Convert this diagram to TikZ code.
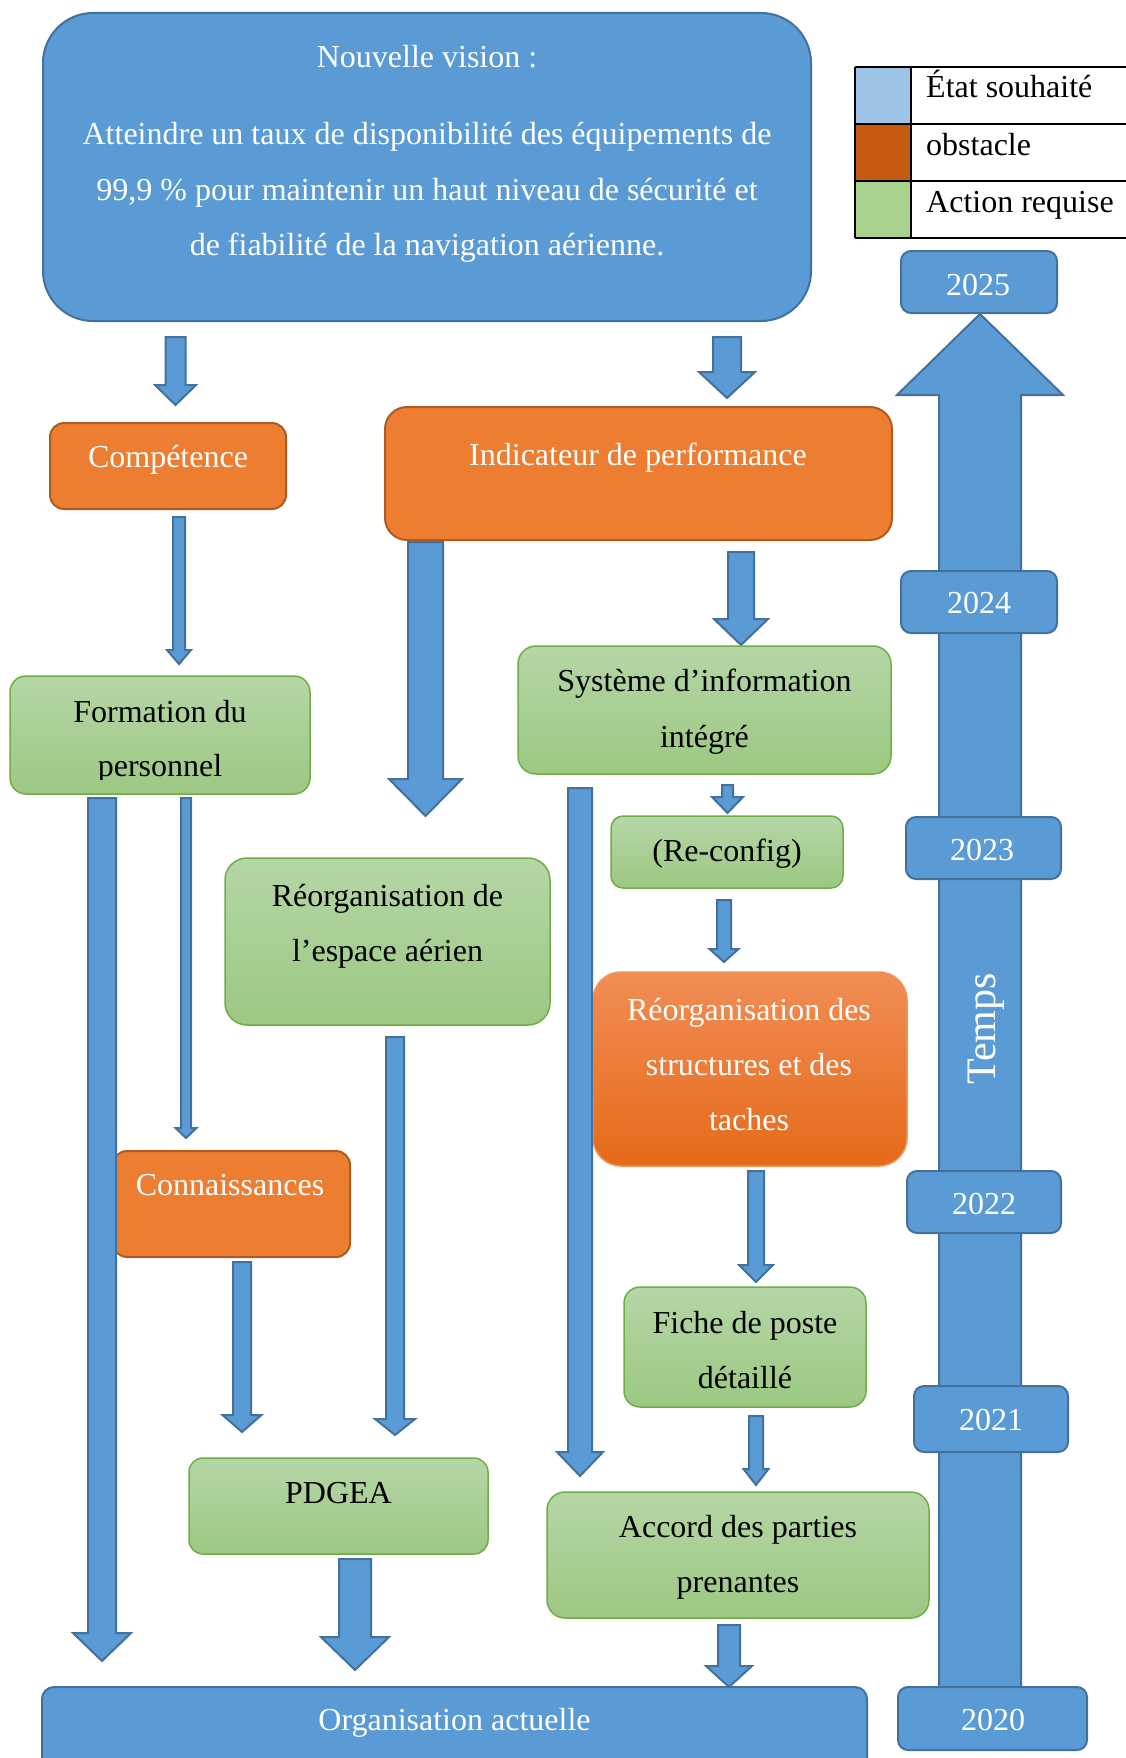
\documentclass[tikz,border=0pt]{standalone}
\usepackage{fontspec}
\setmainfont{Liberation Serif}
\usetikzlibrary{fit}
\definecolor{bfill}{HTML}{5B9BD5}
\definecolor{bline}{HTML}{41719C}
\definecolor{ofill}{HTML}{ED7D31}
\definecolor{oline}{HTML}{AE5A21}
\definecolor{gtop}{HTML}{B5D6A6}
\definecolor{gbot}{HTML}{9CC882}
\definecolor{gline}{HTML}{71AD47}
\definecolor{otop}{HTML}{F18D55}
\definecolor{obot}{HTML}{E56A19}
\definecolor{olight}{HTML}{F19456}
\definecolor{legblue}{HTML}{9DC3E6}
\definecolor{legorange}{HTML}{C55A11}
\definecolor{leggreen}{HTML}{A9D18E}
\tikzset{
  box/.style={inner sep=0pt, outer sep=0pt, line width=2pt},
  bluebox/.style={box, fill=bfill, draw=bline, rounded corners=#1},
  bluebox/.default=10pt,
  orangebox/.style={box, fill=ofill, draw=oline, rounded corners=#1},
  orangebox/.default=14pt,
  greenbox/.style={box, top color=gtop, bottom color=gbot, draw=gline, line width=1.5pt, rounded corners=#1},
  greenbox/.default=16pt,
  gradorange/.style={box, top color=otop, bottom color=obot, draw=olight, line width=1.5pt, rounded corners=#1},
  gradorange/.default=28pt,
  wtxt/.style={text=white, font=\fontsize{32}{38}\selectfont, anchor=base, inner sep=0pt},
  ktxt/.style={wtxt, text=black},
  blockarrow/.style={fill=bfill, draw=bline, line width=2pt, line join=miter},
  legline/.style={draw=black, line width=1.5pt},
  legcell/.style={inner sep=0pt, outer sep=0pt}
}
\newcommand{\blockdown}[6]{%
  \draw[blockarrow] ({#1-#3},#2) -- ({#1+#3},#2) -- ({#1+#3},#5) -- ({#1+#4},#5)
    -- (#1,#6) -- ({#1-#4},#5) -- ({#1-#3},#5) -- cycle;}
\begin{document}
\begin{tikzpicture}[x=1pt,y=-1pt]
\clip (0,0) rectangle (1126,1758);
\fill[white] (0,0) rectangle (1126,1758);

% ---- legend ----
\node[legcell, fill=legblue, fit={(855,67) (911,124)}] (leg1) {};
\node[legcell, fill=legorange, fit={(855,124) (911,181)}] (leg2) {};
\node[legcell, fill=leggreen, fit={(855,181) (911,238)}] (leg3) {};
\draw[legline] (leg1.north west) -- (1126,67);
\draw[legline] (leg2.north west) -- (1126,124);
\draw[legline] (leg3.north west) -- (1126,181);
\draw[legline] (leg3.south west) -- (1126,238);
\draw[legline] (leg1.north west) -- (leg3.south west);
\draw[legline] (leg1.north east) -- (leg3.south east);
\node[ktxt, anchor=base west] (legt1) at (926,98) {État souhaité};
\node[ktxt, anchor=base west] (legt2) at (926,155) {obstacle};
\node[ktxt, anchor=base west] (legt3) at (926,212) {Action requise};

% ---- timeline ----
\draw[blockarrow] (939,1700) -- (939,395) -- (897,395) -- (980,314) -- (1063,395)
  -- (1021,395) -- (1021,1700) -- cycle;
\node[bluebox, fit={(901,251) (1057,313)}] (y2025) {};
\node[wtxt] (t2025) at (978,295) {2025};
\node[bluebox, fit={(901,571) (1057,633)}] (y2024) {};
\node[wtxt] (t2024) at (979,613) {2024};
\node[bluebox, fit={(906,817) (1061,879)}] (y2023) {};
\node[wtxt] (t2023) at (982,860) {2023};
\node[bluebox, fit={(907,1171) (1061,1233)}] (y2022) {};
\node[wtxt] (t2022) at (984,1214) {2022};
\node[bluebox, fit={(914,1386) (1068,1452)}] (y2021) {};
\node[wtxt] (t2021) at (991,1430) {2021};
\node[bluebox, fit={(898,1687) (1087,1750)}] (y2020) {};
\node[wtxt] (t2020) at (993,1730) {2020};
\node[wtxt, font=\fontsize{42}{50}\selectfont, rotate=90] (temps) at (995,1029) {Temps};

% ---- vision ----
\node[bluebox=50pt, fit={(43,13) (811,321)}] (vision) {};
\node[wtxt] (v1) at (427,68) {Nouvelle vision :};
\node[wtxt] (v2) at (427,145) {Atteindre un taux de disponibilité des équipements de};
\node[wtxt] (v3) at (427,200) {99,9 \% pour maintenir un haut niveau de sécurité et};
\node[wtxt] (v4) at (427,255) {de fiabilité de la navigation aérienne.};

\blockdown{175.5}{337}{10}{20.5}{385}{405}
\blockdown{727}{337}{14}{28}{372}{398}

% ---- level 2 ----
\node[orangebox=14pt, fit={(50,423) (286,509)}] (comp) {};
\node[wtxt] (tcomp) at (168,467) {Compétence};
\node[orangebox=22pt, fit={(385,407) (892,540)}] (indic) {};
\node[wtxt] (tindic) at (638,465) {Indicateur de performance};

\blockdown{179}{517}{6}{12}{650}{664}
\blockdown{425.5}{542}{17.5}{36.5}{779}{816}
\blockdown{741}{552}{13}{27}{619}{645}

% ---- formation ----
\node[greenbox=16pt, fit={(10,676) (310,794)}] (form) {};
\node[ktxt] (tform1) at (160,722) {Formation du};
\begin{scope}
\clip (10,676) rectangle (310,779);
\node[ktxt] (tform2) at (160,776) {personnel};
\end{scope}

% ---- systeme ----
\node[greenbox=18pt, fit={(518,646) (891,774)}] (sys) {};
\node[ktxt] (tsys1) at (704.5,691) {Système d’information};
\node[ktxt] (tsys2) at (704.5,747) {intégré};

\blockdown{727.5}{785}{5.5}{15.5}{797}{813}
\node[greenbox=12pt, fit={(611,816) (843,888)}] (reconf) {};
\node[ktxt] (treconf) at (727,861) {(Re-config)};
\blockdown{724}{900}{7}{14.5}{949}{962}

% ---- reorg espace ----
\node[greenbox=22pt, fit={(225,858) (550,1025)}] (espace) {};
\node[ktxt] (tesp1) at (387.5,906) {Réorganisation de};
\node[ktxt] (tesp2) at (387.5,961) {l’espace aérien};

% ---- reorg structures ----
\node[gradorange=28pt, fit={(593,972) (907,1166)}] (struct) {};
\node[wtxt] (tst1) at (749,1020) {Réorganisation des};
\node[wtxt] (tst2) at (749,1075) {structures et des};
\node[wtxt] (tst3) at (749,1130) {taches};

% ---- connaissances ----
\node[orangebox=14pt, fit={(113,1151) (350,1257)}] (conn) {};
\node[wtxt] (tconn) at (230,1195) {Connaissances};

\blockdown{186}{798}{5}{10.5}{1128}{1138}
\blockdown{102}{798}{14}{29}{1633}{1661}
\blockdown{580}{788}{12}{23}{1452}{1476}
\blockdown{395}{1037}{9}{20}{1419}{1435}
\blockdown{242}{1262}{9}{19.5}{1415}{1432}
\blockdown{756}{1171}{8}{17}{1265}{1282}

% ---- fiche ----
\node[greenbox=16pt, fit={(624,1287) (866,1407)}] (fiche) {};
\node[ktxt] (tfiche1) at (745,1333) {Fiche de poste};
\node[ktxt] (tfiche2) at (745,1388) {détaillé};
\blockdown{756}{1416}{7}{12.5}{1469}{1485}

% ---- pdgea / accord ----
\node[greenbox=14pt, fit={(189,1458) (488,1554)}] (pdgea) {};
\node[ktxt] (tpdgea) at (338.5,1503) {PDGEA};
\node[greenbox=18pt, fit={(547,1492) (929,1618)}] (accord) {};
\node[ktxt] (tacc1) at (738,1537) {Accord des parties};
\node[ktxt] (tacc2) at (738,1592) {prenantes};

\blockdown{355}{1559}{16}{34}{1637}{1670}
\blockdown{729}{1625}{11}{23}{1666}{1687}

% ---- organisation actuelle ----
\node[bluebox=12pt, fit={(42,1687) (867,1795)}] (org) {};
\node[wtxt] (torg) at (454.5,1730) {Organisation actuelle};
\end{tikzpicture}
\end{document}
